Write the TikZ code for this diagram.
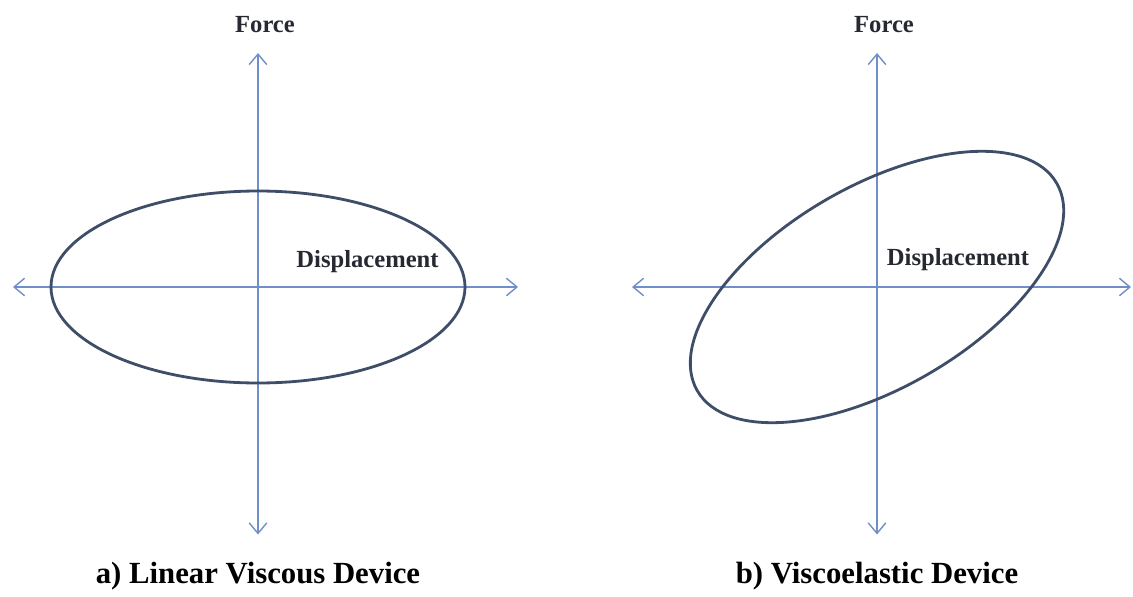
\documentclass[tikz,border=0pt]{standalone}
\usepackage{fontspec}
\setmainfont{Liberation Serif}
\usetikzlibrary{arrows.meta, positioning}
\definecolor{axisblue}{RGB}{112, 142, 200}
\definecolor{loopblue}{RGB}{62, 78, 104}
\definecolor{inkgray}{RGB}{38, 40, 50}

\begin{document}
\begin{tikzpicture}[
    ax/.style={axisblue, line width=0.8pt, {Straight Barb[length=6pt, width=10pt]}-{Straight Barb[length=6pt, width=10pt]}},
    hyst/.style={loopblue, line width=1.6pt},
    lbl/.style={font=\fontsize{14}{16}\selectfont\bfseries, text=inkgray},
    capt/.style={font=\fontsize{17.5}{20}\selectfont\bfseries, text=black}
  ]
    \useasboundingbox (-5.16,-6.18) rectangle (17.5,5.74);
    % a) linear viscous
    \coordinate (o1) at (0,0);
    \coordinate (w1) at (-4.9,0);
    \coordinate (e1) at (5.2,0);
    \coordinate (n1) at (0,4.68);
    \coordinate (s1) at (0,-4.95);
    \draw[ax] (w1) -- (e1);
    \draw[ax] (s1) -- (n1);
    \draw[hyst] (o1) ellipse [x radius=4.14, y radius=1.92];
    \node[lbl] (f1) at (0.14,5.24) {Force};
    \node[lbl] (d1) at (2.19,0.5) {Displacement};
    \node[capt] (c1) at (0,-5.78) {a) Linear Viscous Device};
    % b) viscoelastic
    \coordinate (o2) at (12.38,0);
    \coordinate (w2) at (7.48,0);
    \coordinate (e2) at (17.46,0);
    \coordinate (n2) at (12.38,4.68);
    \coordinate (s2) at (12.38,-4.95);
    \draw[ax] (w2) -- (e2);
    \draw[ax] (s2) -- (n2);
    \draw[hyst, rotate around={30:(o2)}] (o2) ellipse [x radius=4.15, y radius=2.02];
    \node[lbl] (f2) at (12.52,5.24) {Force};
    \node[lbl] (d2) at (14.0,0.54) {Displacement};
    \node[capt] (c2) at (12.38,-5.78) {b) Viscoelastic Device};
  \end{tikzpicture}
\end{document}
